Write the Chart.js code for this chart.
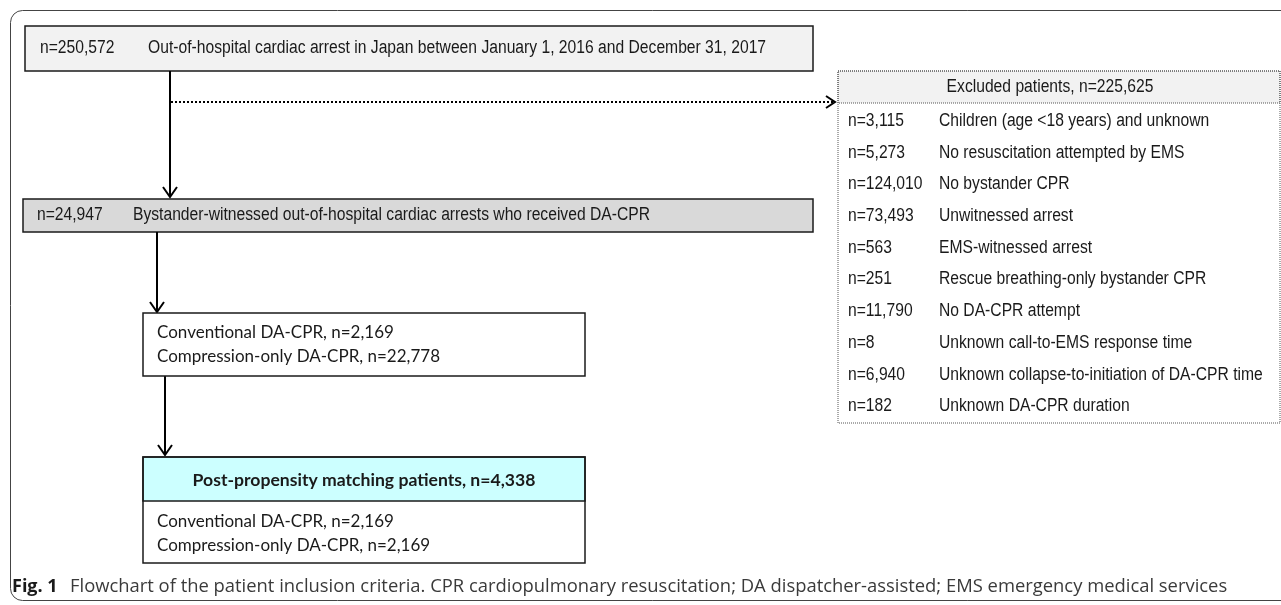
<!DOCTYPE html>
<html>
<head>
<meta charset="utf-8">
<script src="https://cdn.jsdelivr.net/npm/chart.js@4.4.0/dist/chart.umd.min.js"></script>
<style>
  html, body { margin: 0; padding: 0; background: #fff; }
  canvas { display: block; }
</style>
</head>
<body>
<canvas id="flow" width="1281" height="605"></canvas>
<script>
// flowchart numbers and labels
var stepCounts = [250572, 24947];
var stepLabels = [
    'Out-of-hospital cardiac arrest in Japan between January 1, 2016 and December 31, 2017',
    'Bystander-witnessed out-of-hospital cardiac arrests who received DA-CPR'
];
var excludedTotal = 225625;
var excludedCounts = [3115, 5273, 124010, 73493, 563, 251, 11790, 8, 6940, 182];
var excludedReasons = [
    'Children (age <18 years) and unknown',
    'No resuscitation attempted by EMS',
    'No bystander CPR',
    'Unwitnessed arrest',
    'EMS-witnessed arrest',
    'Rescue breathing-only bystander CPR',
    'No DA-CPR attempt',
    'Unknown call-to-EMS response time',
    'Unknown collapse-to-initiation of DA-CPR time',
    'Unknown DA-CPR duration'
];
var groupNames = ['Conventional DA-CPR', 'Compression-only DA-CPR'];
var groupsBefore = [2169, 22778];
var matchedTotal = 4338;
var groupsAfter = [2169, 2169];
var captionLead = 'Fig. 1';
var captionText = 'Flowchart of the patient inclusion criteria. CPR cardiopulmonary resuscitation; DA dispatcher-assisted; EMS emergency medical services';

// layout, in units of the hidden x/y axes (0..1281, 0..605)
var W = 1281, H = 605;
var stepBoxes = [
    {x0: 25, y0: 26, x1: 813, y1: 71, fill: '#f2f2f2', textY: 48},
    {x0: 23, y0: 199, x1: 813, y1: 232, fill: '#d9d9d9', textY: 215}
];
var stepCountX = [40, 37], stepLabelX = [148, 133];
var groupBox = {x0: 143, y0: 313, x1: 585, y1: 376};
var matchBox = {x0: 143, y0: 457, x1: 585, y1: 563, head: 501};
var exclBox = {x0: 838, y0: 71, x1: 1280, y1: 423, head: 103};
var exclRow0 = 121, exclPitch = 31.7, exclCountX = 848, exclReasonX = 939;

// Arial Narrow look: Liberation Sans squeezed horizontally
var narrow = '18px "Liberation Sans", Arial, sans-serif', narrowK = 0.87;
var calibri = '17px Lato, "Open Sans", sans-serif';
var calibriBold = 'bold 17.6px Lato, "Open Sans", sans-serif';
var capFontBold = 'bold 18px "Open Sans", sans-serif';
var capFont = '18.4px "Open Sans", sans-serif';

function fmt(n) {
    return 'n=' + n.toLocaleString('en-US');
}

var flowPlugin = {
    id: 'flow',
    afterDraw: function (chart) {
        var ctx = chart.ctx;
        var sx = function (v) { return chart.scales.x.getPixelForValue(v); };
        var sy = function (v) { return chart.scales.y.getPixelForValue(v); };

        function rect(b, fill, stroke, width, dash) {
            ctx.save();
            if (fill) {
                ctx.fillStyle = fill;
                ctx.fillRect(sx(b.x0), sy(b.y0), sx(b.x1) - sx(b.x0), sy(b.y1) - sy(b.y0));
            }
            ctx.strokeStyle = stroke;
            ctx.lineWidth = width;
            ctx.setLineDash(dash || []);
            ctx.strokeRect(sx(b.x0), sy(b.y0), sx(b.x1) - sx(b.x0), sy(b.y1) - sy(b.y0));
            ctx.restore();
        }
        function text(str, x, y, font, align, color, k) {
            ctx.save();
            ctx.font = font;
            ctx.fillStyle = color || '#1a1a1a';
            ctx.textAlign = align || 'left';
            ctx.textBaseline = 'middle';
            ctx.translate(sx(x), sy(y));
            ctx.scale(k || 1, 1);
            ctx.fillText(str, 0, 0);
            ctx.restore();
        }
        function downArrow(x, y0, y1) {
            ctx.save();
            ctx.strokeStyle = '#000';
            ctx.lineWidth = 2;
            ctx.beginPath();
            ctx.moveTo(sx(x), sy(y0));
            ctx.lineTo(sx(x), sy(y1));
            ctx.moveTo(sx(x) - 7, sy(y1) - 10);
            ctx.lineTo(sx(x), sy(y1));
            ctx.lineTo(sx(x) + 7, sy(y1) - 10);
            ctx.stroke();
            ctx.restore();
        }

        // outer frame
        ctx.save();
        ctx.strokeStyle = '#444';
        ctx.lineWidth = 1;
        ctx.beginPath();
        ctx.roundRect(sx(10) + 0.5, sy(10) + 0.5, sx(W + 20) - sx(10), sy(600) - sy(10), 12);
        ctx.stroke();
        ctx.restore();

        // main steps
        stepBoxes.forEach(function (b, i) {
            rect(b, b.fill, '#1a1a1a', 1.5);
            text(fmt(stepCounts[i]), stepCountX[i], b.textY, narrow, 'left', '#1a1a1a', narrowK);
            text(stepLabels[i], stepLabelX[i], b.textY, narrow, 'left', '#1a1a1a', narrowK);
        });

        downArrow(170, 71, 197);
        downArrow(157, 232, 312);
        downArrow(165, 376, 455);

        // dotted branch to exclusions
        ctx.save();
        ctx.strokeStyle = '#000';
        ctx.lineWidth = 2;
        ctx.setLineDash([2, 2]);
        ctx.beginPath();
        ctx.moveTo(sx(171), sy(102));
        ctx.lineTo(sx(834), sy(102));
        ctx.stroke();
        ctx.setLineDash([]);
        ctx.beginPath();
        ctx.moveTo(sx(826), sy(96));
        ctx.lineTo(sx(835), sy(102));
        ctx.lineTo(sx(826), sy(108));
        ctx.stroke();
        ctx.restore();

        // excluded box
        rect({x0: exclBox.x0, y0: exclBox.y0, x1: exclBox.x1, y1: exclBox.head}, '#f2f2f2', '#555', 1, [1, 1]);
        rect(exclBox, null, '#555', 1, [1, 1]);
        text('Excluded patients, ' + fmt(excludedTotal), 1050, 87, narrow, 'center', '#1a1a1a', narrowK);
        excludedCounts.forEach(function (c, i) {
            var y = exclRow0 + i * exclPitch;
            text(fmt(c), exclCountX, y, narrow, 'left', '#1a1a1a', narrowK);
            text(excludedReasons[i], exclReasonX, y, narrow, 'left', '#1a1a1a', narrowK);
        });

        // groups before matching
        rect(groupBox, '#fff', '#1a1a1a', 1.5);
        groupNames.forEach(function (g, i) {
            text(g + ', ' + fmt(groupsBefore[i]), 157, 333 + i * 24, calibri);
        });

        // post-matching
        rect({x0: matchBox.x0, y0: matchBox.y0, x1: matchBox.x1, y1: matchBox.head}, '#ccffff', '#1a1a1a', 1.5);
        rect(matchBox, null, '#1a1a1a', 1.5);
        text('Post-propensity matching patients, ' + fmt(matchedTotal), (matchBox.x0 + matchBox.x1) / 2, 480, calibriBold, 'center');
        groupNames.forEach(function (g, i) {
            text(g + ', ' + fmt(groupsAfter[i]), 157, 522 + i * 24, calibri);
        });

        // caption
        text(captionLead, 12, 587, capFontBold, 'left', '#1a1a1a');
        text(captionText, 70, 587, capFont, 'left', '#3a3a3a');
    }
};

new Chart(document.getElementById('flow').getContext('2d'), {
    type: 'scatter',
    data: { datasets: [{ data: [], pointRadius: 0 }] },
    options: {
        responsive: false,
        animation: false,
        devicePixelRatio: 1,
        layout: { padding: 0 },
        plugins: { legend: { display: false }, tooltip: { enabled: false } },
        scales: {
            x: { type: 'linear', min: 0, max: W, display: false },
            y: { type: 'linear', min: 0, max: H, reverse: true, display: false }
        }
    },
    plugins: [flowPlugin]
});
</script>
</body>
</html>
